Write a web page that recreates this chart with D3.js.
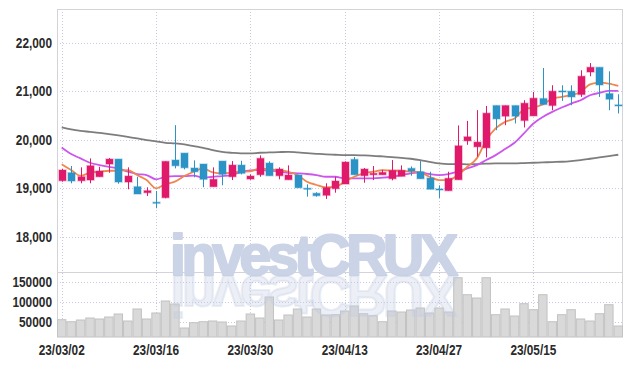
<!DOCTYPE html>
<html><head><meta charset="utf-8">
<script src="https://cdn.jsdelivr.net/npm/d3@7"></script>
<style>html,body{margin:0;padding:0;background:#fff;}svg{display:block;}</style>
</head><body>
<svg id="chart" width="631" height="366"></svg>
<script>
const dates = ["23/03/02","23/03/03","23/03/06","23/03/07","23/03/08","23/03/09","23/03/10","23/03/13","23/03/14","23/03/15",
"23/03/16","23/03/17","23/03/20","23/03/21","23/03/22","23/03/23","23/03/24","23/03/27","23/03/28","23/03/29",
"23/03/30","23/03/31","23/04/03","23/04/04","23/04/05","23/04/06","23/04/07","23/04/10","23/04/11","23/04/12",
"23/04/13","23/04/14","23/04/17","23/04/18","23/04/19","23/04/20","23/04/21","23/04/24","23/04/25","23/04/26",
"23/04/27","23/04/28","23/05/02","23/05/03","23/05/04","23/05/08","23/05/09","23/05/10","23/05/11","23/05/12",
"23/05/15","23/05/16","23/05/17","23/05/18","23/05/19","23/05/22","23/05/23","23/05/24","23/05/25","23/05/26"];
const open  = [19160,19324,19160,19174,19242,19503,19605,19133,19037,18914,18717,18811,19585,19728,19421,19503,19037,19564,19242,19482,
19195,19283,19523,19263,19181,19277,19004,18901,18860,18996,19092,19599,19263,19283,19283,19201,19250,19414,19345,19215,
18990,18955,19181,19981,19858,19837,20707,20488,20707,20399,20494,20851,20707,21007,21001,20933,21397,21493,20953,20720];
const high  = [19400,19462,19435,19620,19447,19626,19605,19435,19242,19025,18949,19558,20303,19728,19579,19503,19435,19564,19564,19570,
19290,19681,19558,19435,19476,19277,19086,18922,19107,19242,19558,19646,19421,19462,19386,19585,19476,19455,19564,19345,
19066,19345,20297,20391,20611,20699,20707,20707,20707,20816,20986,21479,21124,21124,21124,21432,21581,21493,21411,20939];
const low   = [19140,19107,19107,19107,19242,19324,19098,18984,18887,18846,18594,18799,19414,19394,19230,19025,19037,19066,19174,19290,
19180,19242,19263,19189,19181,19016,18832,18832,18785,18914,19092,19283,19119,19174,19283,19168,19250,19263,19201,18984,
18805,18955,19181,19899,19653,19640,20200,20303,20338,20256,20494,20728,20611,20802,20713,20884,21309,20884,20611,20543];
const close = [19380,19154,19242,19468,19359,19605,19133,19256,18887,18955,18696,19558,19468,19427,19345,19189,19189,19291,19482,19312,
19256,19620,19263,19400,19277,19016,18990,18852,19016,19154,19544,19283,19400,19312,19332,19373,19373,19359,19201,18984,
18969,19209,19878,20063,19954,20549,20432,20707,20488,20754,20857,20728,21001,20986,20884,21309,21493,21130,20837,20699];
const volume = [56750,51750,56000,61000,58500,63500,71000,53500,83500,58500,73500,103500,96000,36000,49250,51750,53500,51000,41000,53500,
71000,61000,113500,56000,68500,83500,63500,83500,68500,69250,78500,91000,71750,66750,51750,78500,76000,81000,86000,73500,
86000,76000,161750,119250,111000,161750,69250,83500,66000,96750,81750,119250,51750,69250,81750,58500,53500,71750,94250,41000];
const ma5 = [19497,19380,19263,19324,19345,19365,19365,19380,19277,19174,19004,19092,19140,19256,19345,19414,19332,19312,19324,19345,
19353,19414,19394,19380,19345,19277,19140,19072,19025,19037,19140,19242,19312,19345,19380,19365,19365,19345,19332,19242,
19174,19174,19277,19447,19620,19995,20235,20371,20440,20625,20666,20728,20851,20884,20919,20986,21144,21179,21159,21110];
const ma20 = [19845,19708,19620,19530,19482,19447,19414,19345,19298,19277,19189,19242,19256,19256,19263,19222,19242,19256,19277,19339,
19373,19380,19365,19353,19324,19312,19298,19277,19242,19242,19209,19209,19209,19209,19222,19242,19277,19312,19332,19298,
19277,19298,19345,19414,19482,19585,19687,19811,19940,20133,20338,20473,20576,20666,20748,20816,20919,20966,21007,21007];
const ma60 = [20256,20215,20186,20166,20145,20118,20092,20063,20030,19995,19968,19940,19927,19907,19872,19837,19790,19755,19735,19722,
19722,19735,19742,19749,19755,19742,19728,19714,19701,19694,19687,19687,19681,19673,19660,19646,19632,19612,19585,19550,
19517,19503,19503,19497,19503,19510,19517,19517,19517,19523,19530,19537,19544,19550,19564,19585,19612,19640,19667,19694];
const priceTicks = [18000,19000,20000,21000,22000];
const volumeTicks = [50000,100000,150000];
const dateTickIdx = [0,10,20,30,40,50];

const UP = "#e0196b", DOWN = "#2b93c6";
const L = 57, R = 623, T = 9, MID = 272, B = 337;
const svg = d3.select("#chart");
const FONT = "'Liberation Sans','Arial',sans-serif";

const x = d3.scaleBand().domain(d3.range(dates.length)).range([L, R]).padding(0);
const y = d3.scaleLinear().domain([17282, 22693]).range([MID, T]);
const yv = d3.scaleLinear().domain([13500, 176000]).range([B, MID]);
const cx = i => x(i) + x.bandwidth() / 2;

// grid
const grid = svg.append("g").attr("stroke", "#c9c9e0").attr("stroke-dasharray", "1,2").attr("stroke-width", 1);
priceTicks.forEach(t => grid.append("line").attr("x1", L).attr("x2", R).attr("y1", Math.round(y(t)) + 0.5).attr("y2", Math.round(y(t)) + 0.5));
volumeTicks.forEach(t => grid.append("line").attr("x1", L).attr("x2", R).attr("y1", Math.round(yv(t)) + 0.5).attr("y2", Math.round(yv(t)) + 0.5));
dateTickIdx.forEach(i => grid.append("line").attr("x1", Math.round(cx(i)) + 0.5).attr("x2", Math.round(cx(i)) + 0.5).attr("y1", T).attr("y2", B));

// borders
const border = svg.append("g").attr("stroke", "#d4d4d8").attr("stroke-width", 1);
border.append("line").attr("x1", L + 0.5).attr("x2", L + 0.5).attr("y1", T).attr("y2", B);
border.append("line").attr("x1", R - 0.5).attr("x2", R - 0.5).attr("y1", T).attr("y2", B);
border.append("line").attr("x1", L).attr("x2", R).attr("y1", T + 0.5).attr("y2", T + 0.5);
border.append("line").attr("x1", L).attr("x2", R).attr("y1", MID + 0.5).attr("y2", MID + 0.5);

// watermark (main text behind everything)
const WMF = "'Liberation Sans','Arial',sans-serif";
svg.append("text").attr("font-family", WMF).attr("font-weight", "bold").attr("font-size", 57)
  .attr("x", 170).attr("y", 275).attr("textLength", 288).attr("lengthAdjust", "spacing")
  .attr("fill", "#cbd3e7").attr("stroke", "#cbd3e7").attr("stroke-width", 2.2).attr("stroke-linejoin", "round").text("investCRUX");

// volume bars
svg.append("g").selectAll("rect").data(volume).join("rect")
  .attr("x", (d, i) => x(i) + 0.5).attr("width", x.bandwidth() - 1)
  .attr("y", d => yv(d)).attr("height", d => B - yv(d))
  .attr("fill", "#d9d9d9").attr("stroke", "#c2c2c2").attr("stroke-width", 1);

// reflection of watermark
svg.append("text").attr("font-family", WMF).attr("font-weight", "bold").attr("font-size", 57)
  .attr("transform", "translate(0,551) scale(1,-1)").attr("x", 170).attr("y", 275).attr("textLength", 288).attr("lengthAdjust", "spacing")
  .attr("fill", "#c3cce3").attr("fill-opacity", 0.33).attr("stroke", "#c3cce3").attr("stroke-opacity", 0.33).attr("stroke-width", 2.2).text("investCRUX");

// moving averages
const line = arr => d3.line().x((d, i) => cx(i)).y(d => y(d)).curve(d3.curveMonotoneX)(arr);
svg.append("path").attr("d", line(ma60)).attr("fill", "none").attr("stroke", "#7d7d7d").attr("stroke-width", 1.8);
svg.append("path").attr("d", line(ma20)).attr("fill", "none").attr("stroke", "#cc55ee").attr("stroke-width", 1.8);
svg.append("path").attr("d", line(ma5)).attr("fill", "none").attr("stroke", "#f0864d").attr("stroke-width", 1.8);

// candles
const cg = svg.append("g");
dates.forEach((d, i) => {
  const up = close[i] >= open[i];
  const col = up ? UP : DOWN;
  const xc = Math.round(cx(i)) + 0.5;
  cg.append("line").attr("x1", xc).attr("x2", xc).attr("y1", y(high[i])).attr("y2", y(low[i])).attr("stroke", col).attr("stroke-width", 1);
  const top = y(Math.max(open[i], close[i])), bot = y(Math.min(open[i], close[i]));
  cg.append("rect").attr("x", xc - 3.5).attr("width", 7).attr("y", top).attr("height", Math.max(1, bot - top))
    .attr("fill", col).attr("stroke", col).attr("stroke-opacity", 0.35).attr("stroke-width", 1.5);
});

// axis labels (narrow digits)
const w = s => s.replace(/[0-9]/g, "").length * 3.2 + s.replace(/[^0-9]/g, "").length * 6.6;
const lab = svg.append("g").attr("font-family", FONT).attr("font-weight", "bold").attr("font-size", 14.5).attr("fill", "#2a2a2a");
const addText = (s, xx, yy, anchor) => lab.append("text").attr("x", xx).attr("y", yy).attr("text-anchor", anchor)
  .attr("textLength", w(s)).attr("lengthAdjust", "spacingAndGlyphs").text(s);
priceTicks.forEach(t => addText(d3.format(",")(t), 52, y(t) + 5, "end"));
volumeTicks.forEach(t => addText(String(t), 52, yv(t) + 5, "end"));
dateTickIdx.forEach(i => addText(dates[i], cx(i), 355, "middle"));
</script>
</body></html>
